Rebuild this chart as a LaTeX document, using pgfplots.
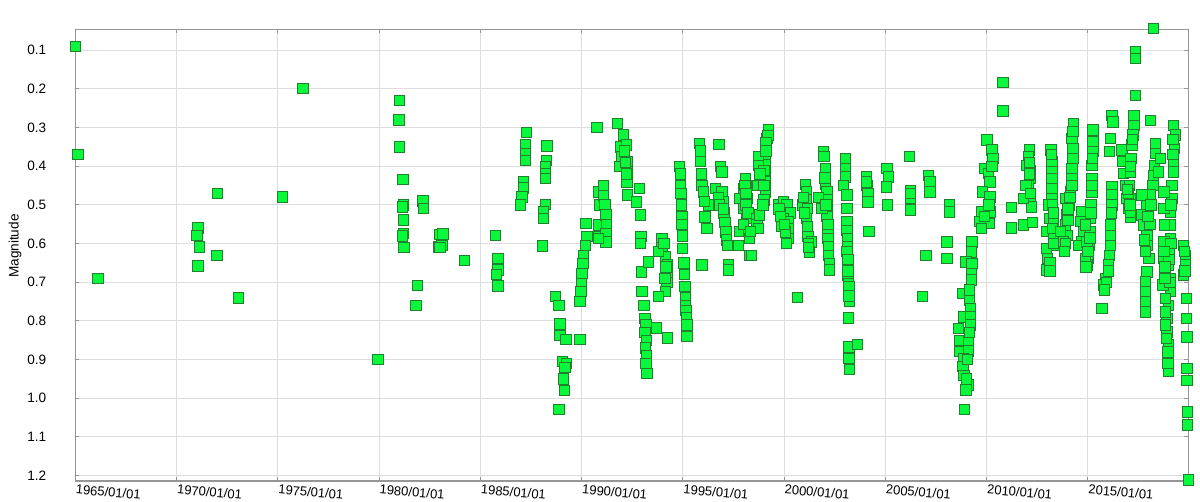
\documentclass[border=0pt]{standalone}
\usepackage{pgfplots}
\pgfplotsset{compat=1.18}
\usepackage{fontspec}
\setmainfont{Liberation Sans}
\definecolor{mfill}{RGB}{10,248,60}
\definecolor{mdraw}{RGB}{30,130,45}
\definecolor{gridc}{RGB}{221,221,221}
\definecolor{axc}{RGB}{150,150,150}
\begin{document}
\begin{tikzpicture}
\begin{axis}[
  name=ax,
  scale only axis,
  width=556.5pt, height=225.85pt,
  xmin=1965, xmax=2019.96,
  ymin=0.046, ymax=1.214,
  y dir=reverse,
  clip=false,
  axis line style={axc, line width=0.6pt},
  grid=major,
  grid style={gridc, line width=0.5pt},
  tick style={axc, line width=0.5pt},
  major tick length=2pt,
  tick align=inside,
  xtick={1965,1970,1975,1980,1985,1990,1995,2000,2005,2010,2015},
  xticklabels={1965/01/01,1970/01/01,1975/01/01,1980/01/01,1985/01/01,1990/01/01,1995/01/01,2000/01/01,2005/01/01,2010/01/01,2015/01/01},
  xticklabel style={font=\fontsize{6.5}{7}\selectfont, anchor=north west, rotate=-5, inner sep=0.5pt, yshift=-1pt},
  ytick={0.1,0.2,0.3,0.4,0.5,0.6,0.7,0.8,0.9,1.0,1.1,1.2},
  yticklabel style={font=\fontsize{6.8}{7}\selectfont, xshift=-11pt, /pgf/number format/fixed, /pgf/number format/fixed zerofill, /pgf/number format/precision=1, /pgf/number format/assume math mode=true},
  ylabel={Magnitude},
  ylabel style={font=\fontsize{6.8}{7}\selectfont, at={(axis description cs:-0.054,0.52)}, anchor=center},
]
\addplot[only marks, mark=square*, mark size=2.6pt, mark options={fill=mfill, draw=mdraw, line width=0.3pt}] table {
x y
1965.00 0.090
1965.12 0.370
1966.12 0.690
1971.04 0.559
1971.00 0.579
1971.12 0.608
1971.04 0.658
1971.98 0.630
1972.01 0.470
1973.05 0.740
1975.22 0.479
1976.23 0.199
1979.93 0.899
1981.00 0.230
1980.98 0.280
1981.00 0.350
1981.18 0.434
1981.20 0.500
1981.15 0.505
1981.20 0.539
1981.20 0.573
1981.15 0.580
1981.22 0.609
1982.15 0.489
1982.18 0.509
1981.90 0.708
1981.82 0.759
1982.96 0.576
1982.92 0.608
1983.14 0.575
1983.10 0.604
1983.00 0.610
1984.21 0.643
1985.73 0.578
1985.86 0.638
1985.86 0.668
1985.80 0.679
1985.86 0.709
1987.27 0.312
1987.22 0.345
1987.22 0.367
1987.22 0.384
1987.11 0.440
1987.11 0.456
1987.04 0.479
1986.96 0.500
1988.28 0.347
1988.25 0.384
1988.22 0.401
1988.20 0.418
1988.20 0.431
1988.20 0.498
1988.11 0.518
1988.11 0.535
1988.06 0.606
1988.69 0.737
1988.87 0.759
1988.93 0.808
1988.93 0.838
1989.22 0.847
1989.04 0.905
1989.26 0.909
1989.18 0.920
1989.09 0.950
1989.15 0.979
1988.87 1.028
1989.92 0.848
1990.20 0.548
1990.25 0.582
1990.17 0.604
1990.09 0.630
1990.06 0.651
1990.01 0.677
1989.98 0.703
1989.96 0.724
1989.92 0.749
1990.76 0.300
1990.82 0.466
1990.87 0.500
1990.82 0.552
1990.82 0.582
1991.07 0.449
1991.07 0.475
1991.15 0.500
1991.20 0.526
1991.23 0.552
1991.20 0.574
1991.20 0.595
1990.83 0.586
1991.77 0.289
1992.06 0.319
1991.90 0.350
1992.20 0.345
1991.98 0.375
1992.23 0.388
1992.26 0.414
1992.23 0.440
1991.86 0.401
1992.26 0.474
1992.10 0.360
1992.15 0.390
1992.20 0.420
1992.84 0.457
1992.69 0.492
1992.89 0.526
1992.92 0.582
1992.89 0.600
1992.94 0.673
1993.30 0.647
1992.97 0.724
1993.08 0.759
1993.13 0.793
1993.18 0.810
1993.13 0.830
1993.20 0.850
1993.15 0.870
1993.20 0.890
1993.18 0.910
1993.23 0.935
1993.68 0.818
1994.23 0.844
1993.96 0.586
1993.96 0.610
1994.12 0.634
1994.23 0.655
1994.20 0.677
1994.20 0.700
1994.12 0.724
1993.79 0.737
1993.79 0.620
1994.05 0.600
1994.15 0.660
1994.10 0.690
1994.83 0.401
1994.87 0.420
1994.87 0.450
1994.90 0.470
1994.92 0.500
1994.95 0.530
1994.95 0.550
1994.97 0.580
1994.98 0.612
1995.05 0.650
1995.07 0.680
1995.10 0.710
1995.12 0.740
1995.12 0.760
1995.15 0.772
1995.18 0.790
1995.20 0.810
1995.20 0.840
1995.81 0.341
1995.86 0.388
1995.93 0.449
1996.01 0.466
1996.26 0.500
1996.09 0.531
1996.18 0.561
1995.93 0.655
1995.85 0.360
1995.90 0.420
1996.05 0.490
1996.77 0.343
1996.84 0.401
1996.92 0.414
1996.59 0.457
1996.92 0.466
1997.00 0.492
1997.03 0.520
1997.08 0.545
1997.12 0.570
1997.16 0.590
1997.20 0.604
1997.25 0.655
1997.25 0.668
1996.75 0.480
1996.80 0.500
1997.00 0.510
1998.07 0.431
1997.99 0.457
1997.82 0.483
1998.15 0.483
1997.99 0.509
1998.15 0.535
1997.82 0.569
1998.24 0.569
1997.74 0.604
1998.29 0.586
1998.29 0.630
1998.05 0.450
1998.10 0.470
1998.10 0.500
1998.20 0.520
1998.00 0.550
1998.73 0.380
1998.65 0.449
1998.65 0.535
1998.65 0.552
1999.22 0.306
1999.14 0.328
1999.12 0.350
1999.06 0.371
1999.04 0.395
1999.06 0.421
1999.04 0.440
1999.06 0.466
1999.00 0.487
1998.73 0.375
1998.73 0.397
1998.70 0.449
1998.77 0.526
1998.73 0.561
1998.32 0.569
1998.37 0.630
1999.20 0.320
1999.10 0.340
1999.10 0.360
1999.00 0.410
1999.00 0.450
1998.95 0.500
1998.80 0.420
1999.72 0.500
1999.97 0.490
2000.13 0.500
1999.89 0.520
2000.30 0.520
1999.97 0.535
2000.21 0.543
1999.89 0.556
2000.21 0.560
2000.21 0.586
1999.73 0.510
2000.05 0.570
2000.10 0.600
1999.80 0.530
2000.00 0.550
2000.65 0.739
2001.05 0.447
2001.09 0.466
2001.09 0.487
2000.93 0.500
2001.14 0.509
2001.09 0.535
2001.14 0.556
2001.17 0.582
2001.34 0.595
2001.25 0.621
2001.00 0.520
2001.20 0.600
2001.20 0.610
2000.95 0.480
2001.94 0.362
2001.97 0.375
2002.02 0.405
2002.02 0.447
2002.11 0.466
2002.11 0.487
2002.11 0.509
2002.11 0.530
2001.69 0.480
2001.86 0.509
2002.16 0.565
2002.16 0.586
2002.18 0.608
2002.18 0.630
2002.23 0.651
2002.23 0.668
2002.00 0.430
2002.05 0.500
2002.15 0.550
2003.01 0.380
2003.01 0.405
2003.01 0.427
2002.93 0.449
2003.09 0.474
2003.09 0.509
2003.09 0.543
2003.09 0.565
2003.12 0.586
2003.12 0.608
2003.14 0.655
2003.14 0.681
2003.17 0.703
2003.17 0.724
2003.21 0.750
2003.17 0.792
2003.19 0.867
2003.62 0.860
2003.19 0.897
2003.22 0.925
2003.10 0.620
2003.15 0.640
2003.15 0.670
2003.20 0.710
2003.20 0.735
2004.05 0.427
2004.08 0.449
2004.13 0.470
2004.13 0.492
2004.18 0.568
2004.05 0.440
2005.07 0.405
2005.15 0.427
2005.04 0.453
2005.10 0.500
2006.18 0.374
2006.22 0.462
2006.22 0.483
2006.22 0.513
2006.22 0.470
2006.83 0.737
2007.12 0.423
2007.20 0.440
2007.20 0.466
2007.00 0.630
2008.16 0.500
2008.16 0.518
2008.03 0.595
2008.03 0.638
2009.26 0.595
2009.23 0.621
2008.98 0.647
2009.26 0.651
2009.23 0.677
2009.23 0.694
2008.82 0.729
2009.14 0.746
2008.85 0.789
2009.18 0.767
2009.20 0.789
2008.60 0.819
2008.68 0.850
2009.10 0.850
2008.65 0.879
2009.10 0.877
2008.85 0.897
2008.82 0.918
2008.88 0.940
2009.10 0.965
2008.98 0.978
2008.90 1.028
2009.15 0.720
2009.20 0.810
2009.15 0.830
2009.05 0.900
2009.00 0.950
2010.00 0.332
2010.25 0.358
2010.30 0.380
2009.92 0.405
2010.08 0.418
2010.25 0.401
2010.16 0.440
2009.80 0.466
2010.16 0.479
2009.75 0.518
2010.16 0.518
2010.13 0.548
2009.67 0.543
2009.75 0.560
2010.10 0.500
2009.90 0.530
2010.79 0.183
2010.79 0.257
2011.23 0.507
2011.23 0.559
2011.81 0.552
2012.27 0.545
2012.10 0.358
2012.06 0.375
2011.97 0.397
2012.14 0.410
2012.17 0.431
2012.06 0.449
2011.94 0.449
2012.14 0.483
2012.22 0.505
2011.81 0.483
2012.10 0.390
2012.12 0.420
2012.15 0.470
2013.16 0.358
2013.21 0.388
2013.21 0.414
2013.21 0.431
2013.21 0.457
2013.21 0.483
2013.04 0.500
2013.09 0.535
2013.29 0.543
2012.96 0.569
2013.32 0.586
2013.37 0.604
2012.96 0.612
2012.99 0.638
2012.96 0.668
2013.20 0.370
2013.25 0.500
2013.30 0.520
2013.25 0.560
2013.30 0.600
2013.13 0.650
2013.13 0.670
2014.29 0.289
2014.21 0.328
2014.26 0.354
2014.26 0.380
2014.21 0.405
2014.21 0.431
2014.13 0.466
2014.05 0.500
2013.96 0.526
2013.88 0.552
2013.96 0.578
2013.80 0.595
2013.63 0.569
2013.88 0.483
2014.25 0.310
2014.20 0.450
2014.10 0.480
2014.00 0.510
2013.90 0.600
2013.85 0.620
2014.00 0.540
2014.70 0.518
2014.62 0.543
2014.79 0.569
2014.70 0.595
2014.54 0.604
2015.25 0.306
2015.25 0.337
2015.25 0.362
2015.20 0.397
2015.20 0.431
2015.20 0.466
2015.15 0.500
2015.12 0.535
2015.12 0.569
2015.08 0.604
2015.03 0.638
2014.95 0.655
2014.87 0.552
2014.95 0.595
2014.87 0.638
2015.22 0.380
2015.20 0.450
2015.15 0.520
2015.10 0.585
2015.00 0.620
2014.90 0.660
2016.19 0.268
2016.23 0.285
2016.10 0.328
2016.07 0.362
2016.19 0.453
2016.19 0.474
2016.19 0.500
2016.10 0.552
2016.10 0.578
2016.10 0.604
2016.07 0.630
2016.02 0.655
2015.86 0.690
2015.77 0.707
2015.69 0.767
2016.15 0.520
2016.00 0.670
2015.90 0.700
2015.80 0.720
2016.68 0.358
2016.73 0.388
2016.76 0.418
2016.84 0.449
2016.93 0.483
2017.01 0.509
2017.09 0.531
2017.34 0.104
2017.34 0.121
2017.34 0.216
2017.26 0.268
2017.26 0.294
2017.22 0.319
2017.17 0.345
2017.12 0.380
2017.09 0.414
2017.06 0.449
2017.09 0.483
2017.09 0.518
2017.20 0.330
2017.10 0.400
2017.08 0.500
2017.00 0.470
2016.95 0.460
2018.24 0.043
2018.08 0.281
2018.33 0.341
2018.33 0.367
2018.28 0.397
2018.24 0.423
2018.21 0.449
2018.08 0.474
2017.91 0.500
2017.67 0.474
2017.67 0.526
2017.75 0.552
2017.91 0.578
2017.91 0.604
2018.00 0.638
2017.91 0.673
2017.83 0.698
2017.83 0.724
2017.83 0.750
2017.83 0.776
2017.80 0.590
2017.85 0.620
2018.05 0.550
2017.95 0.530
2018.10 0.500
2019.23 0.294
2019.31 0.319
2019.26 0.354
2019.23 0.388
2019.23 0.414
2019.15 0.449
2019.15 0.483
2019.07 0.518
2019.07 0.552
2019.07 0.586
2019.03 0.621
2018.98 0.655
2019.07 0.690
2019.07 0.724
2018.98 0.759
2018.90 0.793
2018.90 0.828
2018.98 0.862
2018.98 0.897
2018.98 0.931
2018.74 0.466
2018.74 0.509
2018.77 0.552
2018.74 0.595
2018.74 0.638
2018.70 0.707
2018.82 0.741
2018.82 0.776
2018.82 0.810
2018.87 0.845
2019.20 0.330
2019.20 0.370
2019.10 0.500
2019.10 0.600
2019.00 0.640
2019.05 0.700
2018.95 0.880
2018.95 0.910
2018.80 0.690
2018.75 0.620
2018.80 0.660
2018.57 0.380
2018.49 0.414
2019.72 0.604
2019.81 0.630
2019.81 0.655
2019.72 0.681
2019.75 0.620
2019.78 0.670
2019.86 0.742
2019.86 0.793
2019.89 0.841
2019.89 0.923
2019.89 0.953
2019.92 1.035
2019.92 1.069
2019.96 1.211
};
\end{axis}
\pgfresetboundingbox
\path[use as bounding box] ([shift={(-37.65pt,-10.5pt)}]ax.south west) rectangle ([shift={(5.85pt,14.65pt)}]ax.north east);
\end{tikzpicture}
\end{document}
